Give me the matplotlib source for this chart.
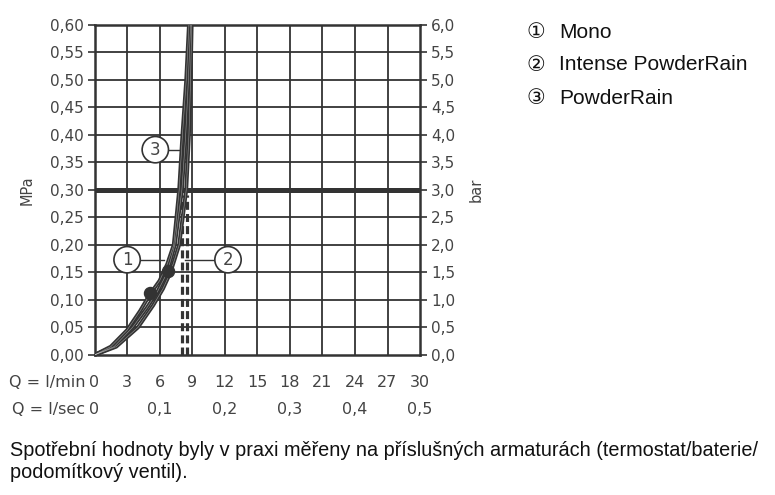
import numpy as np
import matplotlib
matplotlib.use("Agg")
import matplotlib.pyplot as plt
from matplotlib.transforms import blended_transform_factory

# ── Data ────────────────────────────────────────────────────────────────
# flow Q [l/min] vs pressure [MPa]
mono_q = [0, 1.5, 3.0, 4.2, 5.1, 6.0, 6.7, 7.3, 7.8, 8.1, 8.45, 8.7]
mono_p = [0, 0.015, 0.045, 0.08, 0.11, 0.135, 0.165, 0.20, 0.30, 0.40, 0.50, 0.60]

intense_q = [0, 1.8, 3.5, 4.8, 5.8, 6.7, 7.4, 8.05, 8.4, 8.65, 8.85]
intense_p = [0, 0.015, 0.05, 0.085, 0.115, 0.15, 0.20, 0.30, 0.40, 0.50, 0.60]

powder_q = [0, 2.0, 4.0, 5.4, 6.3, 7.0, 7.8, 8.45, 8.7, 8.85, 8.95]
powder_p = [0, 0.015, 0.05, 0.09, 0.12, 0.15, 0.20, 0.30, 0.40, 0.50, 0.60]

dots_q = [5.1, 6.8]
dots_p = [0.113, 0.152]
dash_q = [8.05, 8.55]   # flow at 0.3 MPa

mpa_ticks = np.arange(0, 0.601, 0.05)
bar_ticks = np.arange(0, 6.01, 0.5)
lmin_ticks = list(range(0, 31, 3))
lsec_labels = ["0", "0,1", "0,2", "0,3", "0,4", "0,5"]
lsec_pos = [0, 6, 12, 18, 24, 30]

legend_marks = ["\u2460", "\u2461", "\u2462"]
legend_names = ["Mono", "Intense PowderRain", "PowderRain"]
note = ("Spotřební hodnoty byly v praxi měřeny na příslušných armaturách (termostat/baterie/\n"
        "podomítkový ventil).")

DARK = "#333333"
TXT = "#444444"

# ── Plot ─────────────────────────────────────────────────────────────────
fig = plt.figure(figsize=(7.75, 4.95), dpi=100)
ax = fig.add_axes([0.122, 0.283, 0.420, 0.667])
ax.set_xlim(0, 30)
ax.set_ylim(0, 0.6)

for q in lmin_ticks[1:-1]:
    ax.axvline(q, color=DARK, lw=1.3, zorder=1)
for p in mpa_ticks[1:-1]:
    ax.axhline(p, color=DARK, lw=1.3, zorder=1)
ax.axhline(0.30, color=DARK, lw=3.6, zorder=2)

for q in dash_q:
    ax.plot([q, q], [0, 0.29], color=DARK, lw=2.3, ls=(0, (2.5, 1.3)), zorder=3)

for qs, ps in [(mono_q, mono_p), (intense_q, intense_p), (powder_q, powder_p)]:
    ax.plot(qs, ps, color=DARK, lw=2.8, zorder=4, solid_capstyle="butt")
    ax.plot(qs, ps, color="white", lw=0.4, alpha=0.5, zorder=5)
ax.scatter(dots_q, dots_p, s=75, color=DARK, zorder=6)

# numbered callouts
circ = dict(boxstyle="circle,pad=0.25", fc="white", ec=DARK, lw=1.2)
ax.plot([3.0, 6.4], [0.173, 0.173], color=DARK, lw=1, zorder=3)
ax.plot([8.3, 12.3], [0.173, 0.173], color=DARK, lw=1, zorder=3)
ax.plot([5.6, 8.05], [0.373, 0.373], color=DARK, lw=1, zorder=3)
for x, y, s in [(3.0, 0.173, "1"), (12.3, 0.173, "2"), (5.6, 0.373, "3")]:
    ax.text(x, y, s, ha="center", va="center", fontsize=12, color=TXT,
            bbox=circ, zorder=7)

for sp in ax.spines.values():
    sp.set_color(DARK)
    sp.set_linewidth(1.8)
ax.set_xticks(lmin_ticks)
ax.set_xticklabels([])
ax.tick_params(axis="x", length=0)
ax.set_yticks(mpa_ticks)
ax.set_yticklabels([f"{v:.2f}".replace(".", ",") for v in mpa_ticks])
ax.tick_params(axis="y", length=5, width=1.2, color=DARK, labelsize=11,
               labelcolor=TXT, pad=3)
ax.set_ylabel("MPa", fontsize=10.5, color=TXT)
ax.yaxis.set_label_coords(-0.185, 0.5)

ax2 = ax.twinx()
ax2.set_ylim(0, 6)
ax2.set_yticks(bar_ticks)
ax2.set_yticklabels([f"{v:.1f}".replace(".", ",") for v in bar_ticks])
ax2.tick_params(axis="y", length=5, width=1.2, color=DARK, labelsize=11,
                labelcolor=TXT, pad=3)
for sp in ax2.spines.values():
    sp.set_visible(False)
ax2.set_ylabel("bar", fontsize=10.5, color=TXT)
ax2.yaxis.set_label_coords(1.15, 0.5)

# flow scales under the plot
tr = blended_transform_factory(ax.transData, ax.transAxes)
ax.text(-0.85, -0.085, "Q = l/min", transform=tr, ha="right", va="center",
        fontsize=11.5, color=TXT)
for q in lmin_ticks:
    ax.text(q, -0.085, str(q), transform=tr, ha="center", va="center",
            fontsize=11.5, color=TXT)
ax.text(-0.85, -0.165, "Q = l/sec", transform=tr, ha="right", va="center",
        fontsize=11.5, color=TXT)
for q, s in zip(lsec_pos, lsec_labels):
    ax.text(q, -0.165, s, transform=tr, ha="center", va="center",
            fontsize=11.5, color=TXT)

# legend and footnote
for i, (m, s) in enumerate(zip(legend_marks, legend_names)):
    y = 1 - (32 + 33 * i) / 495
    fig.text(526 / 775, y, m, ha="left", va="center", fontsize=15,
             color="#111111", family=["DejaVu Sans"])
    fig.text(559 / 775, y, s, ha="left", va="center", fontsize=15,
             color="#111111", family=["Liberation Sans", "DejaVu Sans"])
fig.text(0.013, 1 - 441 / 495, note, ha="left", va="top", fontsize=14.3,
         color="#111111", linespacing=1.2, family=["Liberation Sans", "DejaVu Sans"])

fig.savefig("out.png", dpi=100)
